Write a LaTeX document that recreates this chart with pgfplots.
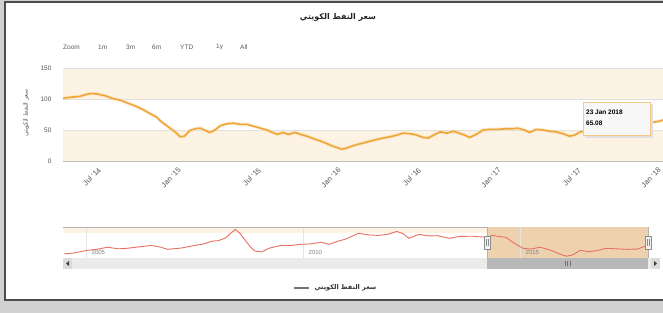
\documentclass[border=0pt]{standalone}
\usepackage{pgfplots}
\pgfplotsset{compat=1.18}
\usepackage{fontspec}
\setmainfont{Liberation Sans}
\newfontfamily\arabicfont[Script=Arabic]{DejaVu Sans}
\TeXXeTstate=1
\definecolor{mainline}{RGB}{240,165,55}
\definecolor{navline}{RGB}{230,112,98}
\definecolor{band}{RGB}{253,243,228}
\definecolor{labelgray}{RGB}{85,85,85}
\definecolor{mask}{RGB}{238,210,176}
\pgfplotstableread{
m v
3.6 101
4.2 103
4.8 104
5.3 107
5.7 109
6.2 108
6.8 105
7.3 101
7.9 98
8.5 93
9.0 89
9.5 84
10.0 78
10.6 71
11.0 63
11.5 55
12.0 47
12.4 39
12.7 40
13.1 49
13.5 52
13.9 53
14.3 49
14.6 46
15.0 50
15.4 57
15.9 60
16.4 61
16.9 59
17.4 59
17.9 56
18.4 53
18.9 50
19.3 46
19.7 43
20.1 46
20.5 43
21.0 46
21.4 43
21.9 40
22.4 36
22.8 33
23.3 29
23.7 25
24.1 22
24.5 19
24.9 21
25.4 25
26.1 29
26.8 33
27.4 36
28.1 39
28.7 42
29.1 45
29.6 44
30.1 42
30.6 38
31.0 37
31.5 43
31.9 47
32.4 45
32.9 48
33.3 45
33.8 41
34.1 38
34.6 43
35.1 50
35.6 51
36.2 51
36.8 52
37.3 52
37.7 53
38.2 50
38.6 46
39.1 51
39.6 50
40.1 48
40.6 47
41.1 44
41.6 40
42.0 42
42.4 47
42.9 48
43.5 50
44.1 51
44.7 54
45.3 56
45.9 57
46.5 60
47.1 61
47.6 62
48.0 63
48.3 64
48.6 66
}\maindata
\pgfplotstableread{
y v
2004.5 38
2004.72 41
2005.02 51
2005.25 55
2005.49 63
2005.75 57
2005.95 59
2006.25 65
2006.51 70
2006.7 64
2006.88 55
2007.2 60
2007.51 70
2007.7 75
2007.9 86
2008.05 88
2008.21 98
2008.35 118
2008.44 131
2008.55 115
2008.67 89
2008.8 62
2008.9 48
2009.05 45
2009.21 59
2009.49 70
2009.7 69
2009.95 74
2010.2 76
2010.42 82
2010.6 74
2010.81 86
2011.0 95
2011.28 116
2011.5 110
2011.74 108
2011.95 112
2012.16 123
2012.3 115
2012.44 97
2012.67 112
2012.9 106
2013.1 107
2013.37 97
2013.6 104
2013.9 105
2014.21 101
2014.37 108
2014.5 104
2014.67 101
2014.85 80
2015.07 59
2015.25 56
2015.46 63
2015.6 57
2015.77 48
2015.9 38
2016.07 29
2016.2 33
2016.39 51
2016.6 46
2016.8 51
2016.99 59
2017.2 57
2017.46 55
2017.7 56
2017.95 70
}\navdata
\begin{document}
\begin{tikzpicture}[x=1pt,y=1pt]
\fill[black!18] (0,0) rectangle (663,-313);
\fill[white] (5,-2) rectangle (680,-300);
\draw[black!70, line width=1.4pt] (5,-2) rectangle (680,-300);
% title
\node[font=\arabicfont\bfseries\fontsize{8}{9}\selectfont, text=black!85] at (338,-17) {\beginR سعر النفط الكويتي\endR};
% range selector
\begin{scope}[every node/.style={font=\fontsize{6.5}{7}\selectfont, text=black!65, anchor=west, inner sep=0pt}]
\node at (63,-47) {Zoom};
\node at (98,-47) {1m};
\node at (126,-47) {3m};
\node at (152,-47) {6m};
\node at (180,-47) {YTD};
\node at (216,-47) {1y};
\node at (240,-47) {All};
\end{scope}
% y axis title
\node[rotate=90, font=\arabicfont\fontsize{6}{7}\selectfont, text=black!65] at (26,-113) {\beginR سعر النفط الكويتي\endR};
% main axis
\begin{axis}[at={(63pt,-161pt)}, anchor=south west, scale only axis,
  width=600pt, height=93pt,
  xmin=3.6, xmax=48.6, ymin=0, ymax=150,
  axis line style={draw=none},
  ytick={0,50,100,150},
  xtick={6,12,18,24,30,36,42,48},
  xticklabels={Jul '14,Jan '15,Jul '15,Jan '16,Jul '16,Jan '17,Jul '17,Jan '18},
  major tick length=0pt,
  tick label style={font=\fontsize{6.5}{7}\selectfont, text=labelgray},
  xticklabel style={rotate=45, anchor=east, font=\fontsize{7.5}{8}\selectfont, xshift=1pt, yshift=-9pt},
  yticklabel style={anchor=east, xshift=-8pt},
  /pgf/number format/assume math mode=true,
  clip=false]
\fill[band] (3.6,0) rectangle (48.6,50);
\fill[band] (3.6,100) rectangle (48.6,150);
\draw[black!12] (3.6,150) -- (48.6,150);
\draw[black!12] (3.6,100) -- (48.6,100);
\draw[black!12] (3.6,50) -- (48.6,50);
\draw[black!25] (3.6,0) -- (48.6,0);
\addplot[mainline!40, line width=3.5pt, opacity=0.5] table[x=m,y=v] {\maindata};
\addplot[mainline, line width=1.6pt] table[x=m,y=v] {\maindata};
\end{axis}
% tooltip
\fill[black!12] (585,-104) rectangle (653,-138);
\fill[white!97!black] (583,-102) rectangle (650,-135);
\draw[mainline!60, line width=0.8pt] (583,-102) rectangle (650,-135);
\node[anchor=west, font=\bfseries\fontsize{6.5}{7}\selectfont, inner sep=0pt] at (586,-112) {23 Jan 2018};
\node[anchor=west, font=\bfseries\fontsize{6.5}{7}\selectfont, inner sep=0pt] at (586,-123) {65.08};
% navigator
\begin{axis}[at={(63pt,-258pt)}, anchor=south west, scale only axis,
  width=585pt, height=31pt,
  xmin=2004.47, xmax=2017.95, ymin=22, ymax=140,
  axis lines=none, clip=false]
\fill[band] (2004.47,118) rectangle (2017.95,140);
\fill[mask] (2014.24,22) rectangle (2017.95,140);
\draw[black!10] (2005,22) -- (2005,140);
\draw[black!10] (2010,22) -- (2010,140);
\draw[black!10] (2015,22) -- (2015,140);
\node[anchor=west, font=\fontsize{6}{7}\selectfont, text=black!50] at (2005.05,44) {2005};
\node[anchor=west, font=\fontsize{6}{7}\selectfont, text=black!50] at (2010.05,44) {2010};
\node[anchor=west, font=\fontsize{6}{7}\selectfont, text=black!50] at (2015.05,44) {2015};
\addplot[navline, line width=0.9pt] table[x=y,y=v] {\navdata};
\draw[black!30] (2004.47,140) -- (2014.24,140) -- (2014.24,22) -- (2017.95,22) -- (2017.95,140);
\end{axis}
% handles
\foreach \hx in {487,648} {
  \fill[black!5] (\hx-3,-236) rectangle (\hx+3,-249);
  \draw[black!45, line width=0.5pt] (\hx-3,-236) rectangle (\hx+3,-249);
  \draw[black!45, line width=0.4pt] (\hx-1,-239) -- (\hx-1,-246) (\hx+1,-239) -- (\hx+1,-246);
}
% scrollbar
\fill[black!8] (63,-258) rectangle (660,-269);
\fill[black!28] (487,-258) rectangle (648,-269);
\fill[black!14] (63,-258) rectangle (72,-269);
\fill[black!14] (651,-258) rectangle (660,-269);
\fill[black!75] (66,-263.5) -- (69,-261) -- (69,-266) -- cycle;
\fill[black!75] (657,-263.5) -- (654,-261) -- (654,-266) -- cycle;
\draw[black!55, line width=0.5pt] (565,-261) -- (565,-266) (567.5,-261) -- (567.5,-266) (570,-261) -- (570,-266);
% legend
\draw[black!55, line width=1.1pt] (294,-288) -- (309,-288);
\node[anchor=west, font=\arabicfont\bfseries\fontsize{6.5}{7}\selectfont, text=black!80] at (311,-288) {\beginR سعر النفط الكويتي\endR};
\pgfresetboundingbox
\useasboundingbox (0,0) rectangle (663,-313);
\end{tikzpicture}
\end{document}
